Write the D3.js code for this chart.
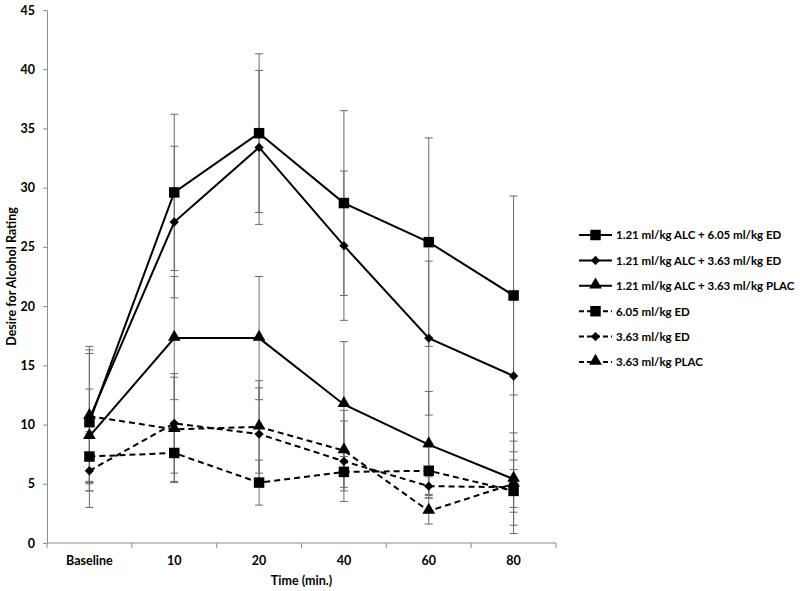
<!DOCTYPE html>
<html>
<head>
<meta charset="utf-8">
<script src="https://cdnjs.cloudflare.com/ajax/libs/d3/7.8.5/d3.min.js"></script>
<style>
  html, body { margin: 0; padding: 0; background: #fff; }
  svg { display: block; }
  text { font-family: Lato, "Open Sans", sans-serif; font-weight: bold; fill: #000; }
</style>
</head>
<body>
<svg id="chart" width="800" height="591"></svg>
<script>
// ---------- data ----------
const categories = ["Baseline", "10", "20", "40", "60", "80"];
const yTicks = [0, 5, 10, 15, 20, 25, 30, 35, 40, 45];

const seriesNames = [
  "1.21 ml/kg ALC + 6.05 ml/kg ED",
  "1.21 ml/kg ALC + 3.63 ml/kg ED",
  "1.21 ml/kg ALC + 3.63 ml/kg PLAC",
  "6.05 ml/kg ED",
  "3.63 ml/kg ED",
  "3.63 ml/kg PLAC"
];
const seriesMarkers = ["square", "diamond", "triangle", "square", "diamond", "triangle"];
const seriesDashed = [false, false, false, true, true, true];

const alc605ED   = [10.2, 29.6, 34.6, 28.7, 25.4, 20.9];
const alc363ED   = [10.5, 27.1, 33.4, 25.1, 17.3, 14.1];
const alc363PLAC = [9.0, 17.3, 17.3, 11.7, 8.3, 5.4];
const ed605      = [7.3, 7.6, 5.1, 6.0, 6.1, 4.4];
const ed363      = [6.1, 10.1, 9.2, 6.9, 4.8, 4.7];
const plac363    = [10.7, 9.6, 9.8, 7.8, 2.7, 5.0];

const errAlc605ED   = [5.8, 6.6, 6.7, 7.8, 8.8, 8.4];
const errAlc363ED   = [6.1, 6.4, 6.5, 6.3, 6.5, 6.4];
const errAlc363PLAC = [4.0, 5.2, 5.2, 5.3, 4.5, 3.9];
const errEd605      = [2.1, 2.5, 1.9, 1.3, 2.0, 1.8];
const errEd363      = [3.1, 4.2, 3.9, 3.4, 0.8, 3.9];
const errPlac363    = [5.6, 4.4, 3.9, 3.4, 1.1, 2.0];

const seriesValues = [alc605ED, alc363ED, alc363PLAC, ed605, ed363, plac363];
const seriesErrors = [errAlc605ED, errAlc363ED, errAlc363PLAC, errEd605, errEd363, errPlac363];

// ---------- layout ----------
const svg = d3.select("#chart");
const plotLeft = 47, plotRight = 556, plotTop = 10, plotBottom = 543;

const x = d3.scaleBand().domain(categories).range([plotLeft, plotRight]).paddingInner(0).paddingOuter(0);
const y = d3.scaleLinear().domain([0, 45]).range([plotBottom, plotTop]);
const cx = c => x(c) + x.bandwidth() / 2;

const axisColor = "#8c8c8c";

// Y axis
const yAxis = svg.append("g").attr("transform", `translate(${plotLeft},0)`)
  .call(d3.axisLeft(y).tickValues(yTicks).tickSize(4).tickPadding(8));
yAxis.select(".domain").attr("stroke", axisColor);
yAxis.selectAll(".tick line").attr("stroke", axisColor);
yAxis.selectAll(".tick text").style("font-size", "12.5px").style("font-family", "Lato, sans-serif").style("font-weight", "bold");

// X axis line and boundary ticks
const xg = svg.append("g");
xg.append("line").attr("x1", plotLeft).attr("x2", plotRight).attr("y1", plotBottom).attr("y2", plotBottom).attr("stroke", axisColor);
const edges = categories.map(c => x(c)).concat([x(categories[categories.length - 1]) + x.bandwidth()]);
xg.selectAll(".bt").data(edges).enter().append("line")
  .attr("x1", d => d).attr("x2", d => d).attr("y1", plotBottom).attr("y2", plotBottom + 5).attr("stroke", axisColor);
xg.selectAll(".xl").data(categories).enter().append("text")
  .attr("x", d => cx(d)).attr("y", 565).attr("text-anchor", "middle")
  .style("font-size", "12.5px").text(d => d);

// Axis titles
svg.append("text").attr("x", (plotLeft + plotRight) / 2).attr("y", 585).attr("text-anchor", "middle")
  .style("font-size", "12.5px").text("Time (min.)");
svg.append("text").attr("transform", `translate(16,${(plotTop + plotBottom) / 2}) rotate(-90)`)
  .attr("text-anchor", "middle").style("font-size", "12.5px").text("Desire for Alcohol Rating");

// Error bars
const errColor = "#6a6a6a";
const eg = svg.append("g");
seriesValues.forEach((vals, si) => {
  vals.forEach((v, i) => {
    const e = seriesErrors[si][i];
    const px = cx(categories[i]);
    eg.append("line").attr("x1", px).attr("x2", px).attr("y1", y(v - e)).attr("y2", y(v + e))
      .attr("stroke", errColor).attr("stroke-width", 1);
    [v - e, v + e].forEach(t => {
      eg.append("line").attr("x1", px - 4).attr("x2", px + 4).attr("y1", y(t)).attr("y2", y(t))
        .attr("stroke", errColor).attr("stroke-width", 1);
    });
  });
});

// Marker drawing
const symbolFor = m => m === "square" ? d3.symbolSquare : (m === "diamond" ? d3.symbolDiamond2 : d3.symbolTriangle);
const sizeFor = m => m === "square" ? 110 : (m === "diamond" ? 55 : 70);
function drawMarker(g, m, px, py) {
  g.append("path").attr("d", d3.symbol().type(symbolFor(m)).size(sizeFor(m))())
    .attr("transform", `translate(${px},${py})` + (m === "triangle" ? " translate(0,-1)" : ""))
    .attr("fill", "#000");
}

// Lines
const line = d3.line().x((d, i) => cx(categories[i])).y(d => y(d));
const lg = svg.append("g");
seriesValues.forEach((vals, si) => {
  lg.append("path").datum(vals).attr("d", line).attr("fill", "none").attr("stroke", "#000")
    .attr("stroke-width", 2).attr("stroke-dasharray", seriesDashed[si] ? "6,4" : null);
});
const mg = svg.append("g");
seriesValues.forEach((vals, si) => {
  vals.forEach((v, i) => drawMarker(mg, seriesMarkers[si], cx(categories[i]), y(v)));
});

// Legend
const leg = svg.append("g");
seriesNames.forEach((name, si) => {
  const ly = 235 + si * 25.4;
  leg.append("line").attr("x1", 579).attr("x2", 612).attr("y1", ly).attr("y2", ly)
    .attr("stroke", "#000").attr("stroke-width", 2).attr("stroke-dasharray", seriesDashed[si] ? "5,3" : null);
  drawMarker(leg, seriesMarkers[si], 595.5, ly);
  leg.append("text").attr("x", 616).attr("y", ly + 4.3).style("font-size", "11.5px").text(name);
});
</script>
</body>
</html>
